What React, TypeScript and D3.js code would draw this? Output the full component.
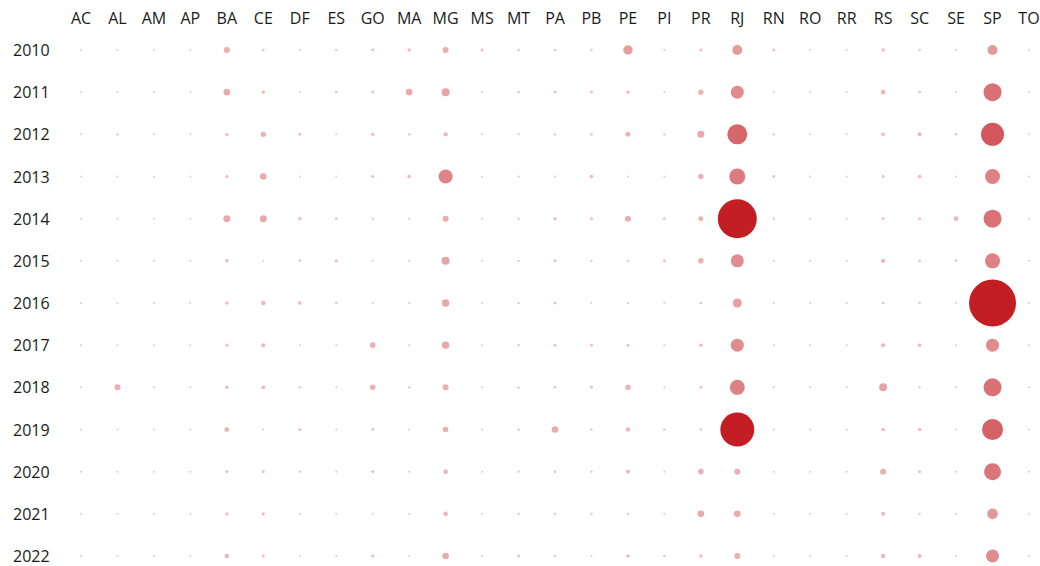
import React from "react";
import * as d3 from "d3";

const states = ["AC","AL","AM","AP","BA","CE","DF","ES","GO","MA","MG","MS","MT","PA","PB","PE","PI","PR","RJ","RN","RO","RR","RS","SC","SE","SP","TO"];
const years = ["2010","2011","2012","2013","2014","2015","2016","2017","2018","2019","2020","2021","2022"];

const v2010 = [10,10,10,10,90,17,10,14,22,29,90,22,14,17,14,221,12,22,250,22,10,10,29,14,10,250,10];
const v2011 = [10,10,10,10,109,26,10,17,17,109,160,10,14,20,20,26,10,73,422,10,10,10,53,17,10,810,10];
const v2012 = [10,14,10,10,29,73,22,10,26,14,48,12,12,14,17,62,14,122,1000,14,10,10,32,40,17,1322,10];
const v2013 = [10,10,10,10,26,109,10,10,22,32,490,10,12,12,32,12,10,73,640,20,10,10,20,29,12,562,10];
const v2014 = [10,10,10,10,122,122,26,17,14,10,90,10,14,29,22,90,17,62,3802,14,10,10,22,22,53,810,10];
const v2015 = [10,10,10,10,32,10,17,29,10,10,160,10,14,22,14,14,22,78,422,10,10,10,48,17,17,562,10];
const v2016 = [10,10,12,10,29,53,32,14,10,10,137,10,14,22,10,12,10,17,202,10,10,10,17,17,10,5522,10];
const v2017 = [10,10,10,10,26,40,10,10,78,10,137,10,14,22,20,22,10,32,422,10,10,10,40,32,10,422,10];
const v2018 = [10,90,10,10,29,36,14,10,78,14,90,10,14,17,22,73,10,22,562,12,10,10,160,14,10,810,10];
const v2019 = [10,10,10,10,58,10,26,10,22,10,78,10,14,109,14,48,17,17,2890,10,10,10,32,29,10,1102,10];
const v2020 = [10,10,10,10,22,22,14,10,22,10,53,10,12,17,14,40,10,78,90,10,10,10,90,22,10,722,10];
const v2021 = [10,10,10,10,26,26,10,10,10,10,53,10,14,14,14,14,10,109,109,10,10,10,40,14,10,281,10];
const v2022 = [10,10,10,10,53,22,10,10,26,10,109,10,22,14,10,32,14,29,90,10,10,10,48,40,10,422,10];

const values = [v2010,v2011,v2012,v2013,v2014,v2015,v2016,v2017,v2018,v2019,v2020,v2021,v2022];

export default function App() {
  const W = 1040, H = 566;
  const x = d3.scalePoint<string>().domain(states).range([81, 1029]);
  const y = d3.scalePoint<string>().domain(years).range([50, 556]);
  const maxV = d3.max(values.flat()) as number;
  const r = d3.scaleSqrt().domain([0, maxV]).range([0, 23.5]);
  const op = d3.scaleSqrt().domain([0, 2890]).range([0.22, 1]).clamp(true);
  const font = "'Open Sans', 'Noto Sans', sans-serif";
  return (
    <svg width={W} height={H} style={{ position: "absolute", left: 0, top: 0, background: "#fff" }}>
      {states.map((s) => (
        <text key={s} x={x(s)} y={18} textAnchor="middle" dominantBaseline="central"
          fontFamily={font} fontSize={16} fill="#1a1a1a">{s}</text>
      ))}
      {years.map((yr) => (
        <text key={yr} x={13} y={y(yr)} dominantBaseline="central"
          fontFamily={font} fontSize={16} fill="#1a1a1a">{yr}</text>
      ))}
      {years.map((yr, i) =>
        states.map((s, j) => (
          <circle key={yr + s} cx={x(s)} cy={y(yr)} r={r(values[i][j])}
            fill="#c41e25" fillOpacity={op(values[i][j])} />
        ))
      )}
    </svg>
  );
}
